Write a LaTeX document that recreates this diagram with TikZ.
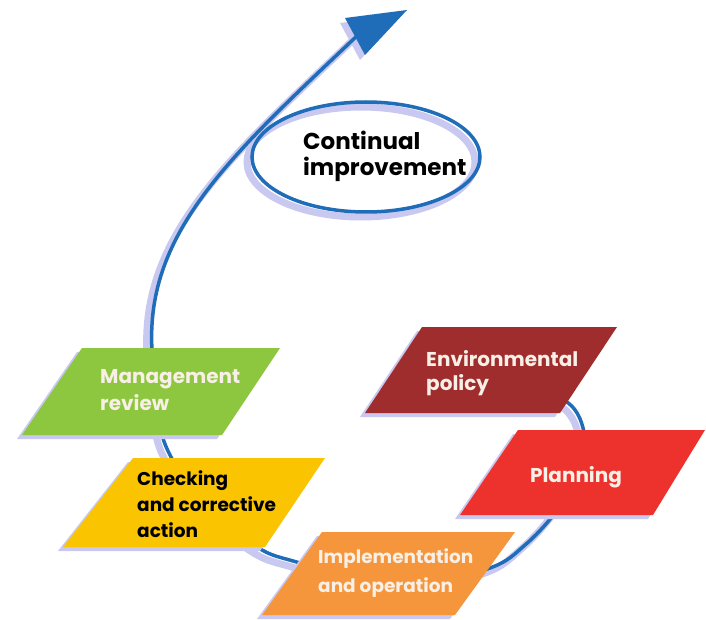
\documentclass[tikz,border=0pt]{standalone}
\usepackage{fontspec}
\setmainfont{Poppins}
\definecolor{cblue}{RGB}{31,109,184}
\definecolor{lav}{RGB}{200,200,240}
\definecolor{cgreen}{RGB}{141,198,63}
\definecolor{cyellow}{RGB}{250,197,0}
\definecolor{corange}{RGB}{245,150,60}
\definecolor{cdred}{RGB}{160,45,45}
\definecolor{cred}{RGB}{237,50,45}
\definecolor{ltxt}{RGB}{248,240,230}
\begin{document}
\begin{tikzpicture}[x=1pt,y=-1pt,
  cyc/.style={draw=cblue,line width=3.5pt,line cap=round},
  cycshadow/.style={draw=lav,line width=7pt,line cap=round},
  lbl/.style={anchor=base west,inner sep=0pt,font=\bfseries\fontsize{20}{24}\selectfont}]
\useasboundingbox (0,0) rectangle (706,620);
\fill[white] (0,0) rectangle (706,620);
% path
\def\cyclepath{plot[smooth,tension=0.55] coordinates {(470,378) (560,398) (584,432) (578,475) (555,513) (525,545) (490,568) (400,590) (300,563) (257,547) (200,500) (170,455) (159,420) (152,350)} .. controls (145,230) and (235,152) .. (360,33)}
% shadows of lines
\begin{scope}[shift={(-5,5)}]
  \draw[cycshadow] \cyclepath;
  \draw[cycshadow] (366,157) ellipse [x radius=114,y radius=55];
  \fill[lav] (345,18) -- (407,10) -- (365,55) -- cycle;
\end{scope}
% blue lines
\draw[cyc] \cyclepath;
\draw[cyc] (366,157) ellipse [x radius=114,y radius=55];
\fill[cblue] (345,18) -- (407,10) -- (365,55) -- cycle;
% boxes
\begin{scope}[shift={(-5,4)}]
  \fill[lav] (82,348) -- (280,348) -- (222,435) -- (22,435) -- cycle;
  \fill[lav] (133,458) -- (325,458) -- (265,547) -- (63,547) -- cycle;
  \fill[lav] (322,532) -- (515,532) -- (455,615) -- (262,615) -- cycle;
  \fill[lav] (422,327) -- (617,327) -- (560,413) -- (365,413) -- cycle;
  \fill[lav] (518,430) -- (705,430) -- (653,515) -- (460,515) -- cycle;
\end{scope}
\fill[cgreen] (82,348) -- (280,348) -- (222,435) -- (22,435) -- cycle;
\fill[cyellow] (133,458) -- (325,458) -- (265,547) -- (63,547) -- cycle;
\fill[corange] (322,532) -- (515,532) -- (455,615) -- (262,615) -- cycle;
\fill[cdred] (422,327) -- (617,327) -- (560,413) -- (365,413) -- cycle;
\fill[cred] (518,430) -- (705,430) -- (653,515) -- (460,515) -- cycle;
% texts
\node[lbl,font=\bfseries\fontsize{23}{27}\selectfont] (ci1) at (303,150) {Continual};
\node[lbl,font=\bfseries\fontsize{23}{27}\selectfont] (ci2) at (303,176) {improvement};
\node[lbl,text=ltxt] (mr1) at (100,383) {Management};
\node[lbl,text=ltxt] (mr2) at (100,410) {review};
\node[lbl,text=black,font=\bfseries\fontsize{18.5}{24}\selectfont] (ch1) at (137,485) {Checking};
\node[lbl,text=black,font=\bfseries\fontsize{18.5}{24}\selectfont] (ch2) at (137,511) {and corrective};
\node[lbl,text=black,font=\bfseries\fontsize{18.5}{24}\selectfont] (ch3) at (137,537) {action};
\node[lbl,text=ltxt,font=\bfseries\fontsize{18.5}{24}\selectfont] (im1) at (318,563) {Implementation};
\node[lbl,text=ltxt,font=\bfseries\fontsize{18.5}{24}\selectfont] (im2) at (318,592) {and operation};
\node[lbl,text=ltxt] (ep1) at (426,366) {Environmental};
\node[lbl,text=ltxt] (ep2) at (426,390) {policy};
\node[lbl,text=ltxt,anchor=base] (pl) at (576,482) {Planning};
\end{tikzpicture}
\end{document}
